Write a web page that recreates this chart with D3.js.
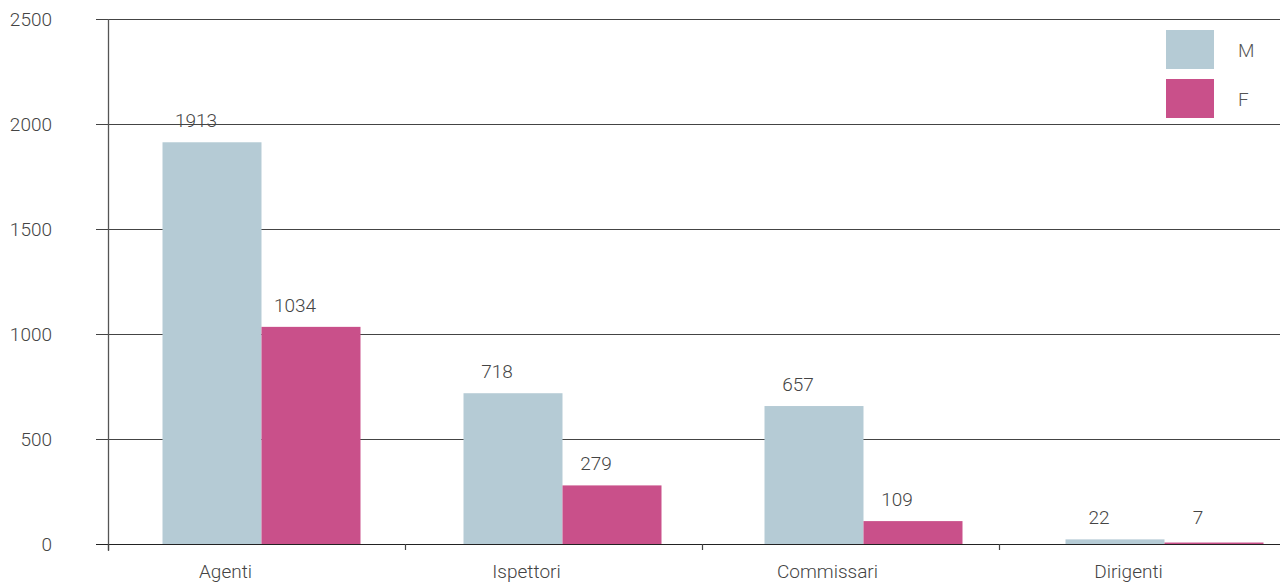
<!DOCTYPE html>
<html><head><meta charset="utf-8">
<script src="https://cdn.jsdelivr.net/npm/d3@7"></script>
<style>
html,body{margin:0;padding:0;background:#fff;}
svg{display:block;font-family:Roboto,"Open Sans",sans-serif;font-weight:300;}
</style></head>
<body><svg id="chart" width="1280" height="585"></svg>
<script>
const categories = ["Agenti","Ispettori","Commissari","Dirigenti"];
const seriesNames = ["M","F"];
const valuesM = [1913, 718, 657, 22];
const valuesF = [1034, 279, 109, 7];
const yTicks = [0, 500, 1000, 1500, 2000, 2500];
const colors = {M:"#b5cbd5", F:"#c9508a"};

const svg = d3.select("#chart");
const y = d3.scaleLinear().domain([0,2500]).range([544,19]);
// category ticks
const xTick = d3.scaleBand().domain(categories).range([108,1296]);
// bar group placement
const xBar = d3.scaleBand().domain(categories).range([111,1315]);
const xInner = d3.scaleBand().domain(seriesNames).range([-99,99]);

// gridlines
svg.append("g").selectAll("line").data(yTicks).join("line")
  .attr("x1",96).attr("x2",1280)
  .attr("y1",d=>Math.round(y(d))+0.5).attr("y2",d=>Math.round(y(d))+0.5)
  .attr("stroke",d=>d===0?"#222":"#444").attr("stroke-width",1.2);

// y tick labels
svg.append("g").selectAll("text").data(yTicks).join("text")
  .attr("x",52).attr("y",d=>y(d)).attr("dy","0.35em")
  .attr("text-anchor","end").attr("font-size",19).attr("fill","#444")
  .text(d=>d);

// bars
const data = [];
categories.forEach((c,i)=>{
  data.push({cat:c,s:"M",v:valuesM[i]});
  data.push({cat:c,s:"F",v:valuesF[i]});
});
const cx = d=>xBar(d.cat)+xBar.bandwidth()/2;
svg.append("g").selectAll("rect").data(data).join("rect")
  .attr("x",d=>cx(d)+xInner(d.s))
  .attr("width",xInner.bandwidth())
  .attr("y",d=>y(d.v))
  .attr("height",d=>y(0)-y(d.v))
  .attr("fill",d=>colors[d.s]);

// value labels
svg.append("g").selectAll("text").data(data).join("text")
  .attr("x",d=>cx(d)+xInner(d.s)+xInner.bandwidth()/2-16)
  .attr("y",d=>Math.min(y(d.v)-15, 524))
  .attr("text-anchor","middle").attr("font-size",19).attr("fill","#444")
  .text(d=>d.v);

// y axis line
svg.append("line").attr("x1",108.5).attr("x2",108.5).attr("y1",19).attr("y2",551)
  .attr("stroke","#555").attr("stroke-width",1.3);
// x ticks
svg.append("g").selectAll("line").data(categories).join("line")
  .attr("x1",d=>xTick(d)+0.5).attr("x2",d=>xTick(d)+0.5)
  .attr("y1",544).attr("y2",550).attr("stroke","#444").attr("stroke-width",1.2);
// x labels
svg.append("g").selectAll("text").data(categories).join("text")
  .attr("x",d=>xBar(d)+xBar.bandwidth()/2-36).attr("y",578)
  .attr("text-anchor","middle").attr("font-size",19).attr("fill","#444")
  .text(d=>d);

// legend
const lg = svg.append("g").attr("transform","translate(1166,30)");
seriesNames.forEach((s,i)=>{
  lg.append("rect").attr("x",0).attr("y",i*49).attr("width",48).attr("height",39).attr("fill",colors[s]);
  lg.append("text").attr("x",72).attr("y",i*49+20).attr("dy","0.35em")
    .attr("font-size",19).attr("fill","#555").text(s);
});
</script></body></html>
